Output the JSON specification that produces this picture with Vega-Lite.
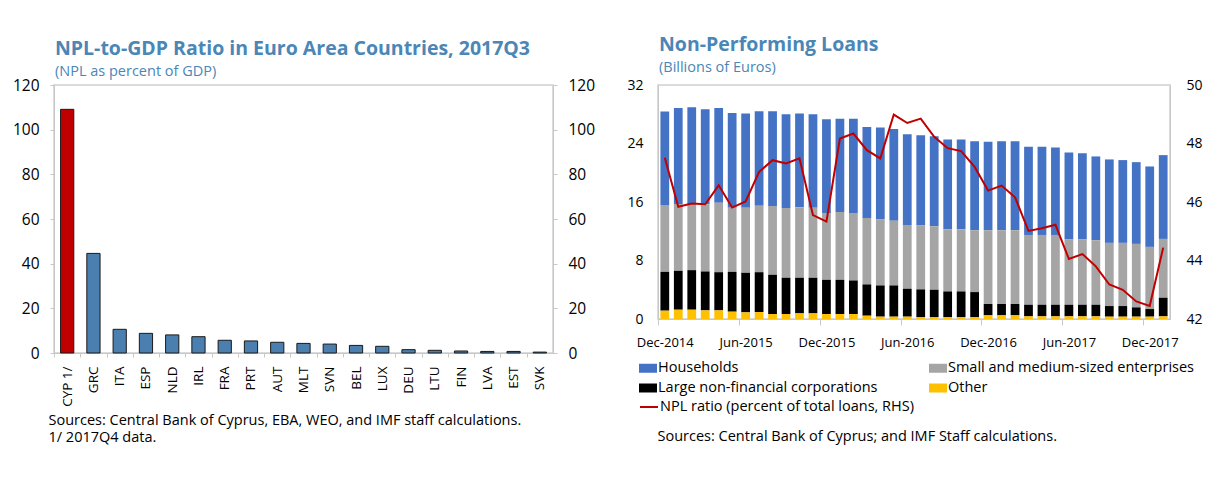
{
  "$schema": "https://vega.github.io/schema/vega-lite/v6.json",
  "padding": {"left": 11, "top": 33, "right": 0, "bottom": 0},
  "background": "white",
  "spacing": 30,
  "resolve": {"legend": {"color": "independent", "stroke": "independent"}},
  "config": {
    "font": "Open Sans",
    "view": {"stroke": "#d0d0d0", "strokeWidth": 1.5},
    "axis": {"grid": false, "domainColor": "#c8c8c8", "tickColor": "#c8c8c8", "labelColor": "#000000", "labelFont": "Open Sans", "titleFont": "Open Sans", "titleFontWeight": "normal", "titleColor": "#000000"},
    "title": {"anchor": "start", "frame": "group", "font": "Open Sans", "fontWeight": "bold", "fontSize": 19.5, "color": "#4a86b6", "subtitleFont": "Open Sans", "subtitleFontSize": 14.5, "subtitleColor": "#4a86b6"},
    "legend": {"labelFont": "Open Sans", "labelFontSize": 14.5, "labelColor": "#000000", "labelLimit": 0}
  },
  "datasets": {
    "gdp": [
      {"c": "CYP 1/", "v": 109.1},
      {"c": "GRC", "v": 44.6},
      {"c": "ITA", "v": 10.6},
      {"c": "ESP", "v": 8.8},
      {"c": "NLD", "v": 8.1},
      {"c": "IRL", "v": 7.3},
      {"c": "FRA", "v": 5.7},
      {"c": "PRT", "v": 5.4},
      {"c": "AUT", "v": 4.8},
      {"c": "MLT", "v": 4.3},
      {"c": "SVN", "v": 4.0},
      {"c": "BEL", "v": 3.4},
      {"c": "LUX", "v": 3.0},
      {"c": "DEU", "v": 1.5},
      {"c": "LTU", "v": 1.2},
      {"c": "FIN", "v": 0.9},
      {"c": "LVA", "v": 0.7},
      {"c": "EST", "v": 0.7},
      {"c": "SVK", "v": 0.4}
    ],
    "stackrank": [
      {"s": "Other", "rank": 1},
      {"s": "Large non-financial corporations", "rank": 2},
      {"s": "Small and medium-sized enterprises", "rank": 3},
      {"s": "Households", "rank": 4}
    ],
    "npl": [
      {"m": "Dec-2014", "Households": 12.77, "Small and medium-sized enterprises": 9.14, "Large non-financial corporations": 5.31, "Other": 1.14, "ratio": 47.51},
      {"m": "Jan-2015", "Households": 13.13, "Small and medium-sized enterprises": 9.14, "Large non-financial corporations": 5.32, "Other": 1.27, "ratio": 45.84},
      {"m": "Feb-2015", "Households": 13.22, "Small and medium-sized enterprises": 9.05, "Large non-financial corporations": 5.41, "Other": 1.27, "ratio": 45.95},
      {"m": "Mar-2015", "Households": 13.0, "Small and medium-sized enterprises": 9.18, "Large non-financial corporations": 5.32, "Other": 1.18, "ratio": 45.92},
      {"m": "Apr-2015", "Households": 12.96, "Small and medium-sized enterprises": 9.5, "Large non-financial corporations": 5.22, "Other": 1.18, "ratio": 46.57},
      {"m": "May-2015", "Households": 12.95, "Small and medium-sized enterprises": 8.78, "Large non-financial corporations": 5.45, "Other": 1.0, "ratio": 45.81},
      {"m": "Jun-2015", "Households": 12.86, "Small and medium-sized enterprises": 8.91, "Large non-financial corporations": 5.41, "Other": 0.91, "ratio": 46.02},
      {"m": "Jul-2015", "Households": 12.9, "Small and medium-sized enterprises": 9.1, "Large non-financial corporations": 5.45, "Other": 0.95, "ratio": 47.03},
      {"m": "Aug-2015", "Households": 12.95, "Small and medium-sized enterprises": 9.4, "Large non-financial corporations": 5.37, "Other": 0.68, "ratio": 47.43},
      {"m": "Sep-2015", "Households": 12.82, "Small and medium-sized enterprises": 9.54, "Large non-financial corporations": 4.96, "Other": 0.68, "ratio": 47.32},
      {"m": "Oct-2015", "Households": 12.82, "Small and medium-sized enterprises": 9.63, "Large non-financial corporations": 4.87, "Other": 0.77, "ratio": 47.49},
      {"m": "Nov-2015", "Households": 12.77, "Small and medium-sized enterprises": 9.59, "Large non-financial corporations": 4.87, "Other": 0.77, "ratio": 45.55},
      {"m": "Dec-2015", "Households": 12.82, "Small and medium-sized enterprises": 9.14, "Large non-financial corporations": 4.68, "Other": 0.68, "ratio": 45.33},
      {"m": "Jan-2016", "Households": 12.76, "Small and medium-sized enterprises": 9.28, "Large non-financial corporations": 4.68, "Other": 0.68, "ratio": 48.17},
      {"m": "Feb-2016", "Households": 12.9, "Small and medium-sized enterprises": 9.23, "Large non-financial corporations": 4.59, "Other": 0.68, "ratio": 48.34},
      {"m": "Mar-2016", "Households": 12.45, "Small and medium-sized enterprises": 9.09, "Large non-financial corporations": 4.28, "Other": 0.45, "ratio": 47.77},
      {"m": "Apr-2016", "Households": 12.59, "Small and medium-sized enterprises": 9.0, "Large non-financial corporations": 4.27, "Other": 0.32, "ratio": 47.49},
      {"m": "May-2016", "Households": 12.55, "Small and medium-sized enterprises": 8.86, "Large non-financial corporations": 4.27, "Other": 0.32, "ratio": 48.99},
      {"m": "Jun-2016", "Households": 12.41, "Small and medium-sized enterprises": 8.72, "Large non-financial corporations": 3.82, "Other": 0.32, "ratio": 48.7},
      {"m": "Jul-2016", "Households": 12.37, "Small and medium-sized enterprises": 8.72, "Large non-financial corporations": 3.78, "Other": 0.27, "ratio": 48.85},
      {"m": "Aug-2016", "Households": 12.32, "Small and medium-sized enterprises": 8.68, "Large non-financial corporations": 3.73, "Other": 0.27, "ratio": 48.23},
      {"m": "Sep-2016", "Households": 12.28, "Small and medium-sized enterprises": 8.5, "Large non-financial corporations": 3.5, "Other": 0.27, "ratio": 47.84},
      {"m": "Oct-2016", "Households": 12.28, "Small and medium-sized enterprises": 8.5, "Large non-financial corporations": 3.5, "Other": 0.27, "ratio": 47.74},
      {"m": "Nov-2016", "Households": 12.18, "Small and medium-sized enterprises": 8.46, "Large non-financial corporations": 3.41, "Other": 0.27, "ratio": 47.2},
      {"m": "Dec-2016", "Households": 12.09, "Small and medium-sized enterprises": 10.09, "Large non-financial corporations": 1.55, "Other": 0.5, "ratio": 46.39},
      {"m": "Jan-2017", "Households": 12.18, "Small and medium-sized enterprises": 10.09, "Large non-financial corporations": 1.55, "Other": 0.5, "ratio": 46.56},
      {"m": "Feb-2017", "Households": 12.18, "Small and medium-sized enterprises": 10.09, "Large non-financial corporations": 1.55, "Other": 0.5, "ratio": 46.16},
      {"m": "Mar-2017", "Households": 12.05, "Small and medium-sized enterprises": 9.55, "Large non-financial corporations": 1.59, "Other": 0.36, "ratio": 45.01},
      {"m": "Apr-2017", "Households": 12.05, "Small and medium-sized enterprises": 9.55, "Large non-financial corporations": 1.59, "Other": 0.36, "ratio": 45.1},
      {"m": "May-2017", "Households": 11.95, "Small and medium-sized enterprises": 9.55, "Large non-financial corporations": 1.59, "Other": 0.36, "ratio": 45.22},
      {"m": "Jun-2017", "Households": 11.91, "Small and medium-sized enterprises": 8.91, "Large non-financial corporations": 1.59, "Other": 0.36, "ratio": 44.05},
      {"m": "Jul-2017", "Households": 11.82, "Small and medium-sized enterprises": 8.91, "Large non-financial corporations": 1.59, "Other": 0.36, "ratio": 44.22},
      {"m": "Aug-2017", "Households": 11.46, "Small and medium-sized enterprises": 8.82, "Large non-financial corporations": 1.59, "Other": 0.36, "ratio": 43.8},
      {"m": "Sep-2017", "Households": 11.41, "Small and medium-sized enterprises": 8.64, "Large non-financial corporations": 1.45, "Other": 0.32, "ratio": 43.18},
      {"m": "Oct-2017", "Households": 11.32, "Small and medium-sized enterprises": 8.64, "Large non-financial corporations": 1.45, "Other": 0.32, "ratio": 43.0},
      {"m": "Nov-2017", "Households": 11.18, "Small and medium-sized enterprises": 8.68, "Large non-financial corporations": 1.27, "Other": 0.32, "ratio": 42.6},
      {"m": "Dec-2017", "Households": 11.0, "Small and medium-sized enterprises": 8.5, "Large non-financial corporations": 1.04, "Other": 0.32, "ratio": 42.45},
      {"m": "Jan-2018", "Households": 11.46, "Small and medium-sized enterprises": 8.04, "Large non-financial corporations": 2.55, "Other": 0.36, "ratio": 44.44}
    ]
  },
  "hconcat": [
    {
      "width": 499,
      "height": 268,
      "title": {"text": "NPL-to-GDP Ratio in Euro Area Countries, 2017Q3", "subtitle": "(NPL as percent of GDP)", "dx": 1, "offset": -1.5, "subtitlePadding": 6},
      "data": {"name": "gdp"},
      "layer": [
        {
          "mark": {"type": "bar", "stroke": "#1a1a1a", "strokeWidth": 1},
          "encoding": {
            "x": {"field": "c", "type": "nominal", "sort": null,
              "scale": {"paddingInner": 0.496, "paddingOuter": 0.25},
              "axis": {"labelAngle": -90, "labelFontSize": 13.5, "tickSize": 4, "tickOffset": -13.1, "labelOffset": 13.1, "labelPadding": 9,
                "title": ["Sources: Central Bank of Cyprus, EBA, WEO, and IMF staff calculations.", "1/ 2017Q4 data."],
                "titleAnchor": "start", "titleAlign": "left", "titleX": -6, "titleY": 60, "titleBaseline": "top", "titleFontSize": 14.5, "titleLineHeight": 17}},
            "y": {"field": "v", "type": "quantitative",
              "scale": {"domain": [0, 120], "nice": false},
              "axis": {"orient": "left", "values": [0, 20, 40, 60, 80, 100, 120], "title": null, "labelFontSize": 15.5, "tickSize": 4, "labelPadding": 11}},
            "color": {"condition": {"test": "datum.c === 'CYP 1/'", "value": "#c00000"}, "value": "#4a7fb0"}
          }
        },
        {
          "mark": {"type": "bar", "opacity": 0},
          "encoding": {
            "x": {"field": "c", "type": "nominal", "sort": null},
            "y": {"field": "v", "type": "quantitative",
              "scale": {"domain": [0, 120], "nice": false},
              "axis": {"orient": "right", "values": [0, 20, 40, 60, 80, 100, 120], "title": null, "labelFontSize": 15.5, "tickSize": 4, "labelPadding": 11}}
          }
        }
      ],
      "resolve": {"scale": {"y": "independent"}}
    },
    {
      "width": 512,
      "height": 234,
      "title": {"text": "Non-Performing Loans", "subtitle": "(Billions of Euros)", "dx": 1, "offset": 2.5, "subtitlePadding": 6},
      "data": {"name": "npl"},
      "layer": [
        {
          "transform": [
            {"fold": ["Households", "Small and medium-sized enterprises", "Large non-financial corporations", "Other"], "as": ["s", "val"]},
            {"lookup": "s", "from": {"data": {"name": "stackrank"}, "key": "s", "fields": ["rank"]}}
          ],
          "mark": {"type": "bar"},
          "encoding": {
            "x": {"field": "m", "type": "nominal", "sort": null,
              "scale": {"paddingInner": 0.35, "paddingOuter": 0.18},
              "axis": {"values": ["Dec-2014", "Jun-2015", "Dec-2015", "Jun-2016", "Dec-2016", "Jun-2017", "Dec-2017"],
                "tickOffset": -6.74, "labelOffset": 6.74, "labelAngle": 0, "labelFontSize": 13, "tickSize": 6, "labelPadding": 11,
                "title": "Sources: Central Bank of Cyprus; and IMF Staff calculations.",
                "titleAnchor": "start", "titleAlign": "left", "titleX": -1, "titleY": 117, "titleBaseline": "middle", "titleFontSize": 14.5}},
            "y": {"field": "val", "type": "quantitative", "stack": "zero",
              "scale": {"domain": [0, 32], "nice": false},
              "axis": {"orient": "left", "values": [0, 8, 16, 24, 32], "title": null, "labelFontSize": 14, "ticks": false, "labelPadding": 15}},
            "order": {"field": "rank", "type": "quantitative", "sort": "ascending"},
            "color": {"field": "s", "type": "nominal",
              "scale": {"domain": ["Households", "Small and medium-sized enterprises", "Large non-financial corporations", "Other"], "range": ["#4472c4", "#a5a5a5", "#000000", "#ffc000"]},
              "legend": {"title": null, "orient": "none", "direction": "horizontal", "legendX": -19, "legendY": 274, "columns": 2, "columnPadding": 51, "rowPadding": 4, "symbolType": "M-1,-0.5H1V0.5H-1Z", "symbolSize": 324, "symbolStrokeWidth": 0, "labelOffset": 1}}
          }
        },
        {
          "mark": {"type": "line", "strokeWidth": 2},
          "encoding": {
            "x": {"field": "m", "type": "nominal", "sort": null},
            "y": {"field": "ratio", "type": "quantitative",
              "scale": {"domain": [42, 50], "nice": false},
              "axis": {"orient": "right", "values": [42, 44, 46, 48, 50], "title": null, "labelFontSize": 14, "ticks": false, "labelPadding": 16}},
            "stroke": {"datum": "NPL ratio (percent of total loans, RHS)", "scale": {"range": ["#c00000"]},
              "legend": {"title": null, "orient": "none", "legendX": -19, "legendY": 312, "symbolType": "stroke", "symbolStrokeWidth": 2, "symbolSize": 324, "labelOffset": 1}}
          }
        }
      ],
      "resolve": {"scale": {"y": "independent"}}
    }
  ]
}
